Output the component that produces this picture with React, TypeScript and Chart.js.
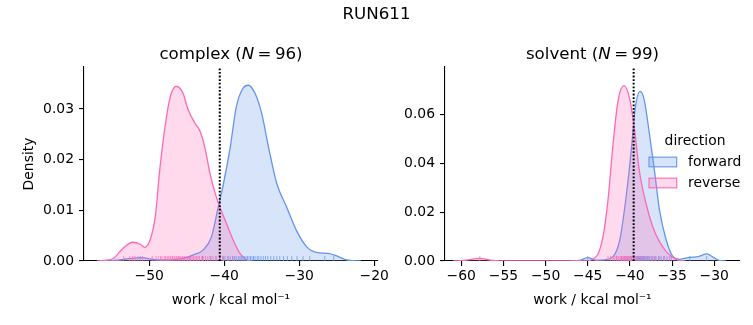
import React, { useEffect, useRef } from "react";
import { Chart, registerables } from "chart.js";

Chart.register(...registerables);

// ---------- data ----------
const suptitle = "RUN611";
const legendTitle = "direction";
const seriesNames = ["forward", "reverse"];
const xAxisTitle = "work / kcal mol\u207B\u00B9";
const yAxisTitle = "Density";

// complex panel
const complexN = 96;
const complexXTicks = [-50, -40, -30, -20];
const complexYTicks = [0, 0.01, 0.02, 0.03];
const complexXRange = [-58.7, -19.5];
const complexYMax = 0.0383;
const complexVLine = -40.6;

const complexForwardX = [-55.5, -54, -52.5, -51.0, -49.5, -48, -46.5, -45.5, -44.1, -42.8, -41.7, -40.8, -40.1, -39.2, -38.4, -37.5, -36.8, -35.9, -35.0, -34.1, -33.0, -31.7, -30.4, -29.0, -27.7, -26.1, -25.0, -23.7, -21.8];
const complexForwardY = [0, 0.0002, 0.0005, 0.00066, 0.0003, 0.0002, 0.0003, 0.0005, 0.0012, 0.0022, 0.0048, 0.0107, 0.0153, 0.0225, 0.0304, 0.0341, 0.0347, 0.0331, 0.0291, 0.0225, 0.0153, 0.0107, 0.0061, 0.0028, 0.0017, 0.0015, 0.0010, 0.0002, 0];

const complexReverseX = [-57.0, -55.5, -54.8, -53.5, -52.2, -51.2, -50.6, -49.9, -49.2, -48.6, -47.9, -47.2, -46.4, -45.5, -44.8, -43.9, -43.2, -42.6, -41.9, -41.2, -40.6, -39.7, -38.8, -37.9, -37.0, -36.3];
const complexReverseY = [0, 0.0002, 0.0005, 0.0025, 0.0037, 0.0033, 0.0027, 0.0041, 0.0087, 0.018, 0.0265, 0.0324, 0.0345, 0.0331, 0.0298, 0.0272, 0.0255, 0.0225, 0.0173, 0.0133, 0.0107, 0.0074, 0.0041, 0.0015, 0.0002, 0];

const complexForwardRug = [-51.2, -44.6, -42.9, -41.8, -41.1, -40.6, -40.2, -39.9, -39.5, -39.2, -38.9, -38.6, -38.4, -38.1, -37.9, -37.7, -37.5, -37.3, -37.1, -36.9, -36.7, -36.5, -36.3, -36.1, -35.9, -35.6, -35.4, -35.1, -34.8, -34.5, -34.2, -33.8, -33.4, -33.0, -32.6, -32.1, -31.6, -31.0, -30.3, -29.5, -28.6, -26.6, -25.4];
const complexReverseRug = [-53.4, -52.6, -52.2, -51.9, -51.5, -50.9, -49.6, -49.1, -48.8, -48.5, -48.3, -48.0, -47.8, -47.6, -47.4, -47.2, -47.1, -46.9, -46.7, -46.6, -46.4, -46.3, -46.1, -46.0, -45.8, -45.6, -45.5, -45.3, -45.1, -44.9, -44.7, -44.5, -44.3, -44.1, -43.9, -43.7, -43.5, -43.3, -43.0, -42.8, -42.5, -42.2, -41.9, -41.5, -41.1, -40.6, -40.1, -39.5, -38.7];

// solvent panel
const solventN = 99;
const solventXTicks = [-60, -55, -50, -45, -40, -35, -30];
const solventYTicks = [0, 0.02, 0.04, 0.06];
const solventXRange = [-61.93, -26.95];
const solventYMax = 0.0793;
const solventVLine = -39.56;

const solventForwardX = [-47.0, -46.0, -45.0, -44.0, -43.0, -42.0, -41.2, -40.4, -39.8, -39.4, -38.8, -38.3, -37.7, -37.1, -36.5, -35.7, -34.9, -34.1, -32.9, -31.9, -30.9, -30.1, -29.4, -28.6];
const solventForwardY = [0, 0.0002, 0.0014, 0.0003, 0.0005, 0.0018, 0.0086, 0.0277, 0.0468, 0.0618, 0.0693, 0.0658, 0.0522, 0.0372, 0.0209, 0.0086, 0.0018, 0.0007, 0.0015, 0.0018, 0.0029, 0.0015, 0.0002, 0];

const solventReverseX = [-61.0, -59.5, -57.8, -56.5, -55.5, -45.5, -44.0, -43.2, -42.6, -42.0, -41.4, -40.7, -40.0, -39.4, -38.9, -38.1, -37.3, -36.5, -35.5, -34.5, -33.4];
const solventReverseY = [0, 0.0003, 0.0011, 0.0003, 0, 0, 0.0018, 0.0099, 0.025, 0.048, 0.0658, 0.0717, 0.0658, 0.0522, 0.0372, 0.0236, 0.014, 0.0079, 0.0031, 0.0007, 0];

const solventForwardRug = [-45.0, -41.6, -41.0, -40.6, -40.3, -40.0, -39.8, -39.6, -39.4, -39.2, -39.1, -39.0, -38.9, -38.8, -38.7, -38.6, -38.5, -38.4, -38.3, -38.2, -38.0, -37.9, -37.7, -37.5, -37.3, -37.1, -36.9, -36.6, -36.3, -36.0, -35.6, -35.1, -32.9, -30.9];
const solventReverseRug = [-57.8, -42.6, -42.3, -42.0, -41.8, -41.6, -41.4, -41.3, -41.1, -41.0, -40.9, -40.8, -40.7, -40.6, -40.5, -40.4, -40.3, -40.2, -40.1, -40.0, -39.9, -39.8, -39.6, -39.5, -39.3, -39.1, -38.9, -38.7, -38.4, -38.1, -37.8, -37.4, -37.0, -36.5, -35.9, -35.3];

// ---------- styles ----------
const FONT = "'DejaVu Sans', 'Liberation Sans', sans-serif";
const TICK_PX = 13.9;
const TITLE_PX = 16.67;
const BLUE = "rgb(100,149,237)";
const BLUE_FILL = "rgba(100,149,237,0.25)";
const BLUE_RUG = "rgba(100,149,237,0.75)";
const PINK = "rgb(255,105,180)";
const PINK_FILL = "rgba(255,105,180,0.25)";
const PINK_RUG = "rgba(255,105,180,0.75)";
const W = 753;
const H = 325;

const fmtX = (v: number) => (v < 0 ? "\u2212" + Math.abs(v) : String(v));
const fmtY = (v: number) => v.toFixed(2);

function drawMathTitle(ctx: CanvasRenderingContext2D, cx: number, baseline: number, pre: string, ital: string, post: string) {
  const f = `${TITLE_PX}px ${FONT}`;
  const fi = `italic ${TITLE_PX}px ${FONT}`;
  ctx.font = f;
  const w1 = ctx.measureText(pre).width;
  const w3 = ctx.measureText(post).width;
  ctx.font = fi;
  const w2 = ctx.measureText(ital).width;
  let x = cx - (w1 + w2 + w3) / 2;
  ctx.textAlign = "left";
  ctx.textBaseline = "alphabetic";
  ctx.fillStyle = "#000";
  ctx.font = f;
  ctx.fillText(pre, x, baseline);
  x += w1;
  ctx.font = fi;
  ctx.fillText(ital, x, baseline);
  x += w2;
  ctx.font = f;
  ctx.fillText(post, x, baseline);
}

type Panel = {
  name: string;
  n: number;
  xTicks: number[];
  yTicks: number[];
  xRange: number[];
  yMax: number;
  vline: number;
  fx: number[];
  fy: number[];
  rx: number[];
  ry: number[];
  fRug: number[];
  rRug: number[];
  padLeft: number;
  padRight: number;
  yTitle: boolean;
  legend: boolean;
  suptitle: boolean;
};

function buildConfig(p: Panel): any {
  const pts = (xs: number[], ys: number[]) => xs.map((x, i) => ({ x, y: ys[i] }));
  const rugY = p.yMax * 0.0125;
  const rug = (xs: number[]) => xs.map((x) => ({ x, y: rugY }));
  const rugDs = (xs: number[], color: string) => ({
    data: rug(xs),
    showLine: false,
    pointStyle: "line",
    pointRotation: 90,
    pointRadius: 2.5,
    pointBorderWidth: 1,
    pointBorderColor: color,
    pointBackgroundColor: color,
    borderColor: color,
    fill: false,
  });
  const kdeDs = (xs: number[], ys: number[], line: string, fillc: string) => ({
    data: pts(xs, ys),
    borderColor: line,
    backgroundColor: fillc,
    borderWidth: 1.3,
    pointRadius: 0,
    fill: "origin",
    cubicInterpolationMode: "monotone",
  });

  const titlePlugin = {
    id: "titles" + p.name,
    afterDraw(chart: any) {
      const ctx = chart.ctx as CanvasRenderingContext2D;
      const a = chart.chartArea;
      ctx.save();
      drawMathTitle(ctx, (a.left + a.right) / 2, a.top - 8.3, `${p.name} (`, "N", `\u2009=\u2009${p.n})`);
      if (p.suptitle) {
        ctx.font = `${TITLE_PX}px ${FONT}`;
        ctx.textAlign = "center";
        ctx.textBaseline = "alphabetic";
        ctx.fillStyle = "#000";
        ctx.fillText(suptitle, W / 2, 18.7);
      }
      if (p.legend) {
        const r = a.right;
        ctx.font = `${TICK_PX}px ${FONT}`;
        ctx.textAlign = "center";
        ctx.textBaseline = "middle";
        ctx.fillStyle = "#000";
        ctx.fillText(legendTitle, r - 45, 141.5);
        const entries = [
          { label: seriesNames[0], line: BLUE, fill: BLUE_FILL, cy: 162 },
          { label: seriesNames[1], line: PINK, fill: PINK_FILL, cy: 183 },
        ];
        for (const e of entries) {
          const x0 = r - 91;
          const w = 27.7;
          const h = 9.7;
          ctx.fillStyle = e.fill;
          ctx.fillRect(x0, e.cy - h / 2, w, h);
          ctx.strokeStyle = e.line;
          ctx.lineWidth = 1.1;
          ctx.strokeRect(x0, e.cy - h / 2, w, h);
          ctx.fillStyle = "#000";
          ctx.textAlign = "left";
          ctx.fillText(e.label, r - 52, e.cy);
        }
      }
      ctx.restore();
    },
  };

  return {
    type: "line",
    data: {
      datasets: [
        {
          data: [
            { x: p.vline, y: 0 },
            { x: p.vline, y: p.yMax },
          ],
          borderColor: "#000",
          borderWidth: 2,
          borderDash: [1.8, 1.8],
          pointRadius: 0,
          fill: false,
        },
        rugDs(p.rRug, PINK_RUG),
        rugDs(p.fRug, BLUE_RUG),
        kdeDs(p.rx, p.ry, PINK, PINK_FILL),
        kdeDs(p.fx, p.fy, BLUE, BLUE_FILL),
      ],
    },
    options: {
      animation: false,
      responsive: false,
      maintainAspectRatio: false,
      events: [],
      layout: { padding: { left: p.padLeft, right: p.padRight, top: 67, bottom: 0 } },
      plugins: {
        legend: { display: false },
        tooltip: { enabled: false },
        title: { display: false },
      },
      scales: {
        x: {
          type: "linear",
          min: p.xRange[0],
          max: p.xRange[1],
          afterBuildTicks: (s: any) => {
            s.ticks = p.xTicks.map((v) => ({ value: v }));
          },
          afterFit: (s: any) => {
            s.height = 64;
          },
          ticks: {
            callback: (v: any) => fmtX(Number(v)),
            color: "#000",
            font: { size: TICK_PX, family: FONT },
            padding: 2.5,
            maxRotation: 0,
            autoSkip: false,
          },
          grid: { drawOnChartArea: false, drawTicks: true, tickLength: 5, color: "#000", lineWidth: 1.1 },
          border: { display: true, color: "#000", width: 1.1 },
          title: {
            display: true,
            text: xAxisTitle,
            color: "#000",
            font: { size: TICK_PX, family: FONT },
            padding: { top: 0, bottom: 16.5 },
          },
        },
        y: {
          type: "linear",
          min: 0,
          max: p.yMax,
          afterBuildTicks: (s: any) => {
            s.ticks = p.yTicks.map((v) => ({ value: v }));
          },
          afterFit: (s: any) => {
            s.width = 84;
          },
          ticks: {
            callback: (v: any) => fmtY(Number(v)),
            color: "#000",
            font: { size: TICK_PX, family: FONT },
            padding: 5,
            autoSkip: false,
          },
          grid: { drawOnChartArea: false, drawTicks: true, tickLength: 5, color: "#000", lineWidth: 1.1 },
          border: { display: true, color: "#000", width: 1.1 },
          title: {
            display: p.yTitle,
            text: yAxisTitle,
            color: "#000",
            font: { size: TICK_PX, family: FONT },
            padding: { top: 21.5, bottom: 0 },
          },
        },
      },
    },
    plugins: [titlePlugin],
  };
}

const panels: Panel[] = [
  {
    name: "complex",
    n: complexN,
    xTicks: complexXTicks,
    yTicks: complexYTicks,
    xRange: complexXRange,
    yMax: complexYMax,
    vline: complexVLine,
    fx: complexForwardX,
    fy: complexForwardY,
    rx: complexReverseX,
    ry: complexReverseY,
    fRug: complexForwardRug,
    rRug: complexReverseRug,
    padLeft: 0,
    padRight: W - 378,
    yTitle: true,
    legend: false,
    suptitle: true,
  },
  {
    name: "solvent",
    n: solventN,
    xTicks: solventXTicks,
    yTicks: solventYTicks,
    xRange: solventXRange,
    yMax: solventYMax,
    vline: solventVLine,
    fx: solventForwardX,
    fy: solventForwardY,
    rx: solventReverseX,
    ry: solventReverseY,
    fRug: solventForwardRug,
    rRug: solventReverseRug,
    padLeft: 445 - 84,
    padRight: W - 740,
    yTitle: false,
    legend: true,
    suptitle: false,
  },
];

function PanelCanvas({ panel }: { panel: Panel }) {
  const ref = useRef<HTMLCanvasElement | null>(null);
  useEffect(() => {
    if (!ref.current) return;
    const chart = new Chart(ref.current, buildConfig(panel));
    return () => chart.destroy();
  }, [panel]);
  return (
    <canvas
      ref={ref}
      width={W}
      height={H}
      style={{ position: "absolute", left: 0, top: 0, width: W, height: H }}
    />
  );
}

export default function App() {
  return (
    <div style={{ position: "absolute", left: 0, top: 0, width: W, height: H, background: "#fff" }}>
      {panels.map((p) => (
        <PanelCanvas key={p.name} panel={p} />
      ))}
    </div>
  );
}
